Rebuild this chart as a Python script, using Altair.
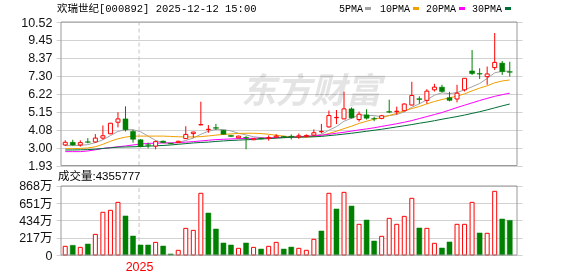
import altair as alt
import pandas as pd

# ---------------- data ----------------
idx = list(range(60))
opens = [3.16, 3.32, 3.16, 3.35, 3.34, 3.57, 3.83, 4.52, 4.72, 3.97,
         3.47, 3.17, 3.09, 3.39, 3.26, 3.30, 3.54, 3.84, 4.36, 4.08,
         4.20, 4.04, 3.73, 3.59, 3.61, 3.47, 3.57, 3.55, 3.63, 3.67,
         3.68, 3.65, 3.67, 3.75, 3.95, 4.24, 4.79, 4.72, 5.32, 4.68,
         4.96, 4.74, 4.75, 5.16, 5.15, 5.21, 5.55, 5.93, 5.83, 6.46,
         6.62, 5.99, 5.91, 6.46, 7.59, 7.44, 7.25, 7.79, 8.06, 7.55]
closes = [3.32, 3.16, 3.30, 3.32, 3.57, 3.71, 4.46, 4.72, 4.07, 3.50,
          3.06, 3.14, 3.36, 3.30, 3.23, 3.38, 3.79, 3.93, 4.38, 4.10,
          4.16, 3.80, 3.67, 3.69, 3.58, 3.53, 3.52, 3.60, 3.69, 3.62,
          3.64, 3.71, 3.73, 3.89, 3.97, 4.92, 4.81, 5.32, 4.78, 5.00,
          4.76, 4.72, 4.91, 5.12, 5.18, 5.61, 6.12, 5.88, 6.38, 6.62,
          6.36, 5.83, 6.26, 7.15, 7.43, 7.40, 7.41, 8.10, 7.55, 7.51]
highs = [3.44, 3.47, 3.44, 3.57, 3.81, 4.33, 4.48, 5.12, 5.47, 4.07,
         3.50, 3.30, 3.42, 3.42, 3.28, 3.41, 4.28, 3.95, 5.75, 4.35,
         4.42, 4.06, 3.75, 3.71, 3.69, 3.56, 3.59, 3.73, 3.81, 3.70,
         3.79, 3.85, 3.79, 4.09, 4.42, 5.22, 5.25, 6.35, 5.41, 5.16,
         5.30, 4.85, 4.96, 5.87, 5.45, 5.65, 6.94, 6.07, 6.50, 6.82,
         6.76, 6.34, 6.76, 7.16, 8.84, 7.75, 7.85, 9.86, 8.18, 8.14]
lows = [3.10, 3.12, 3.06, 3.26, 3.30, 3.49, 3.81, 4.21, 3.97, 3.30,
        3.02, 2.96, 2.90, 3.27, 3.21, 3.28, 3.52, 3.60, 4.34, 3.89,
        4.05, 3.78, 3.64, 3.56, 2.90, 3.45, 3.50, 3.42, 3.57, 3.60,
        3.49, 3.53, 3.61, 3.71, 3.85, 4.20, 4.41, 4.70, 4.74, 4.56,
        4.68, 4.58, 4.70, 5.06, 4.98, 5.17, 5.53, 5.63, 5.63, 6.36,
        6.30, 5.77, 5.71, 6.36, 7.35, 7.11, 6.76, 7.65, 7.35, 7.25]

# volume in 万 (10k shares)
vol_wan = [109, 122, 96, 138, 260, 537, 562, 662, 491, 239,
           126, 126, 159, 113, 13, 59, 335, 310, 776, 528,
           327, 151, 126, 84, 151, 96, 75, 109, 159, 75,
           100, 84, 59, 197, 302, 776, 579, 788, 616, 386,
           440, 176, 235, 461, 386, 486, 713, 340, 335, 147,
           88, 164, 386, 386, 662, 277, 273, 801, 453, 435.58]
vol_dir = ["up", "down", "up", "down", "up", "up", "up", "up", "down", "down",
           "down", "down", "up", "down", "down", "up", "up", "up", "up", "down",
           "down", "down", "down", "up", "down", "up", "down", "up", "up", "down",
           "down", "up", "up", "up", "down", "up", "down", "up", "down", "up",
           "down", "down", "up", "up", "up", "up", "up", "down", "up", "up",
           "down", "down", "up", "up", "up", "down", "up", "up", "down", "down"]

ma5 = [3.12, 3.12, 3.13, 3.18, 3.30, 3.47, 3.72, 3.97, 4.08, 4.07,
       3.95, 3.69, 3.43, 3.30, 3.26, 3.31, 3.43, 3.57, 3.80, 3.98,
       4.10, 4.08, 4.00, 3.86, 3.76, 3.65, 3.60, 3.58, 3.58, 3.59,
       3.61, 3.65, 3.68, 3.72, 3.79, 4.04, 4.26, 4.58, 4.76, 4.97,
       4.93, 4.92, 4.85, 4.92, 4.98, 5.14, 5.42, 5.62, 5.86, 6.14,
       6.28, 6.23, 6.30, 6.46, 6.64, 6.84, 7.14, 7.48, 7.57, 7.58]
ma10 = [2.94, 2.94, 2.95, 2.98, 3.05, 3.20, 3.38, 3.53, 3.63, 3.69,
        3.69, 3.69, 3.69, 3.69, 3.67, 3.65, 3.64, 3.64, 3.66, 3.70,
        3.75, 3.79, 3.82, 3.85, 3.86, 3.86, 3.84, 3.80, 3.74, 3.69,
        3.64, 3.63, 3.63, 3.66, 3.72, 3.85, 3.98, 4.14, 4.28, 4.45,
        4.58, 4.70, 4.80, 4.92, 5.05, 5.20, 5.34, 5.46, 5.62, 5.76,
        5.88, 5.98, 6.08, 6.22, 6.40, 6.56, 6.70, 6.88, 6.99, 7.05]
ma20 = [2.76, 2.76, 2.76, 2.80, 2.87, 2.95, 3.00, 3.05, 3.10, 3.16,
        3.22, 3.25, 3.27, 3.28, 3.28, 3.30, 3.33, 3.36, 3.40, 3.44,
        3.48, 3.50, 3.52, 3.54, 3.55, 3.56, 3.57, 3.58, 3.60, 3.62,
        3.63, 3.65, 3.67, 3.70, 3.74, 3.80, 3.86, 3.92, 3.99, 4.06,
        4.12, 4.19, 4.27, 4.35, 4.43, 4.52, 4.62, 4.74, 4.86, 4.98,
        5.10, 5.25, 5.40, 5.54, 5.68, 5.82, 5.95, 6.07, 6.17, 6.26]
ma30 = [2.86, 2.86, 2.87, 2.88, 2.91, 2.95, 2.99, 3.03, 3.04, 3.05,
        3.07, 3.09, 3.11, 3.13, 3.16, 3.20, 3.24, 3.28, 3.31, 3.33,
        3.37, 3.40, 3.43, 3.45, 3.47, 3.49, 3.52, 3.54, 3.57, 3.60,
        3.62, 3.63, 3.64, 3.65, 3.67, 3.72, 3.76, 3.81, 3.86, 3.92,
        3.98, 4.04, 4.10, 4.17, 4.24, 4.31, 4.38, 4.46, 4.53, 4.61,
        4.70, 4.78, 4.86, 4.95, 5.05, 5.15, 5.26, 5.38, 5.50, 5.61]

price_ticks = [1.93, 3.00, 4.08, 5.15, 6.22, 7.30, 8.37, 9.45, 10.52]
vol_ticks = [0, 217, 434, 651, 868]
year_label = "2025"
year_mark = 9.8
last_volume = 4355777
title_text = "欢瑞世纪[000892] 2025-12-12 15:00"
legend_names = ["5PMA", "10PMA", "20PMA", "30PMA"]
watermark_text = "东方财富"

# ---------------- styling / scales ----------------
RED = "#ff0000"
GREEN = "#008000"
MA_COLORS = ["#a3a3a3", "#f0a000", "#ff00ff", "#006f35"]
GRID = "#d2d2d2"
FRAME = "#9a9a9a"
X_DOMAIN = [-0.56, 59.96]
P_DOMAIN = [-3.427, 10.52]
V_DOMAIN = [0, 2931]
NUM_FONT = "Liberation Sans, Noto Sans CJK SC"
MONO_FONT = "Liberation Mono, Noto Sans CJK SC"

df = pd.DataFrame({
    "i": idx, "open": opens, "close": closes, "high": highs, "low": lows,
    "vol": vol_wan, "vdir": vol_dir,
    "ma5": ma5, "ma10": ma10, "ma20": ma20, "ma30": ma30,
})

x_axis = alt.Axis(values=[year_mark], labelExpr="'%s'" % year_label,
                  labelColor=RED, labelFont=NUM_FONT, labelFontSize=12.5,
                  ticks=False, domain=False, grid=False, title=None,
                  labelPadding=5)
xscale = alt.Scale(domain=X_DOMAIN, nice=False, zero=False)


def X(field="i:Q"):
    return alt.X(field, scale=xscale, axis=x_axis)


pscale = alt.Scale(domain=P_DOMAIN, nice=False, zero=False)
p_axis = alt.Axis(values=price_ticks, format=".2f", grid=True, gridColor=GRID,
                  gridWidth=1, ticks=False, domain=False, labelFont=NUM_FONT,
                  labelFontSize=12.5, labelColor="#111111", labelPadding=4,
                  title=None, labelOverlap=False, orient="left")
vscale = alt.Scale(domain=V_DOMAIN, nice=False, zero=True)
v_axis = alt.Axis(values=vol_ticks,
                  labelExpr="datum.value == 0 ? '0' : datum.value + '万'",
                  grid=True, gridColor=GRID, gridWidth=1, ticks=False,
                  domain=False, labelFont=NUM_FONT, labelFontSize=12.5,
                  labelColor="#111111", labelPadding=4, title=None,
                  labelOverlap=False, orient="left")


def PY(field):
    return alt.Y(field, scale=pscale, axis=p_axis)


def VY(field):
    return alt.Y(field, scale=vscale, axis=v_axis)


base = alt.Chart(df)
up = "datum.close >= datum.open"
down = "datum.close < datum.open"

frames = pd.DataFrame({"x0": [X_DOMAIN[0]], "x1": [X_DOMAIN[1]],
                       "p0": [price_ticks[0]], "p1": [price_ticks[-1]],
                       "v0": [vol_ticks[0]], "v1": [vol_ticks[-1]],
                       "ym": [year_mark]})
fr = alt.Chart(frames)

# ---------------- price panel ----------------
ma_layers = [
    base.mark_line(color=c, strokeWidth=1).encode(x=X(), y=PY(f + ":Q"))
    for f, c in zip(["ma5", "ma10", "ma20", "ma30"], MA_COLORS)
]
year_rule_p = fr.mark_rule(color="#c4c4c4", strokeDash=[4, 3]).encode(
    x=X("ym:Q"), y=PY("p0:Q"), y2="p1:Q")
wick_up = base.transform_filter(up).mark_rule(color=RED, strokeWidth=1).encode(
    x=X(), y=PY("low:Q"), y2="high:Q")
wick_dn = base.transform_filter(down).mark_rule(color=GREEN, strokeWidth=1).encode(
    x=X(), y=PY("low:Q"), y2="high:Q")
body_up = base.transform_filter(up).mark_bar(
    size=4, fill="#ffffff", stroke=RED, strokeWidth=1).encode(
    x=X(), y=PY("open:Q"), y2="close:Q")
body_dn = base.transform_filter(down).mark_bar(
    size=5, fill=GREEN, stroke=GREEN, strokeWidth=0.5).encode(
    x=X(), y=PY("open:Q"), y2="close:Q")
frame_p = fr.mark_rect(fillOpacity=0, stroke=FRAME, strokeWidth=1).encode(
    x=X("x0:Q"), x2="x1:Q", y=PY("p0:Q"), y2="p1:Q")

price = alt.layer(year_rule_p, *ma_layers, wick_up, wick_dn, body_up,
                  body_dn, frame_p)

# ---------------- volume panel ----------------
year_rule_v = fr.mark_rule(color="#c4c4c4", strokeDash=[4, 3]).encode(
    x=X("ym:Q"), y=VY("v0:Q"), y2="v1:Q")
vbar_up = base.transform_filter("datum.vdir == 'up'").mark_bar(
    size=4, fill="#ffffff", stroke=RED, strokeWidth=1).encode(
    x=X(), y=VY("vol:Q"))
vbar_dn = base.transform_filter("datum.vdir == 'down'").mark_bar(
    size=5, fill=GREEN, stroke=GREEN, strokeWidth=0.5).encode(
    x=X(), y=VY("vol:Q"))
frame_v = fr.mark_rect(fillOpacity=0, stroke=FRAME, strokeWidth=1).encode(
    x=X("x0:Q"), x2="x1:Q", y=VY("v0:Q"), y2="v1:Q")

volume = alt.layer(year_rule_v, vbar_up, vbar_dn, frame_v)

# ---------------- texts ----------------


def text_layer(txt, x, y, font, size, color="#000000", align="left",
               **extra):
    return alt.Chart(pd.DataFrame({"t": [txt]})).mark_text(
        font=font, fontSize=size, color=color, align=align,
        baseline="middle", **extra).encode(
        text="t:N", x=alt.value(x), y=alt.value(y))


watermark = text_layer(watermark_text, 255, 70, "Noto Sans CJK SC", 35,
                       color="#e4e4e4", align="center", fontWeight="bold",
                       fontStyle="italic", blend="multiply")
title = text_layer(title_text, 1, -13.5, MONO_FONT, 10.5)
vol_title = text_layer("成交量:" + str(last_volume), 2, 154.5, NUM_FONT, 11.5)

legend_layers = []
legend_text_x = [283, 324, 370, 416]
legend_sw_x = [309, 357, 403, 449]
for name, tx, sx, col in zip(legend_names, legend_text_x, legend_sw_x, MA_COLORS):
    legend_layers.append(text_layer(name, tx, -13.5, MONO_FONT, 10))
    legend_layers.append(
        alt.Chart(pd.DataFrame({"t": [name]})).mark_rule(
            color=col, strokeWidth=3).encode(
            x=alt.value(sx), x2=alt.value(sx + 6), y=alt.value(-13.5)))

chart = alt.layer(
    watermark, price, volume, title, vol_title, *legend_layers
).resolve_scale(y="independent").properties(
    width=466, height=233,
    padding={"left": 56, "top": 22, "right": 56, "bottom": 21},
    autosize=alt.AutoSizeParams(type="none"),
    background="#ffffff",
).configure_view(strokeWidth=0)

chart.save("out.html", embed_options={"renderer": "svg", "actions": False})
